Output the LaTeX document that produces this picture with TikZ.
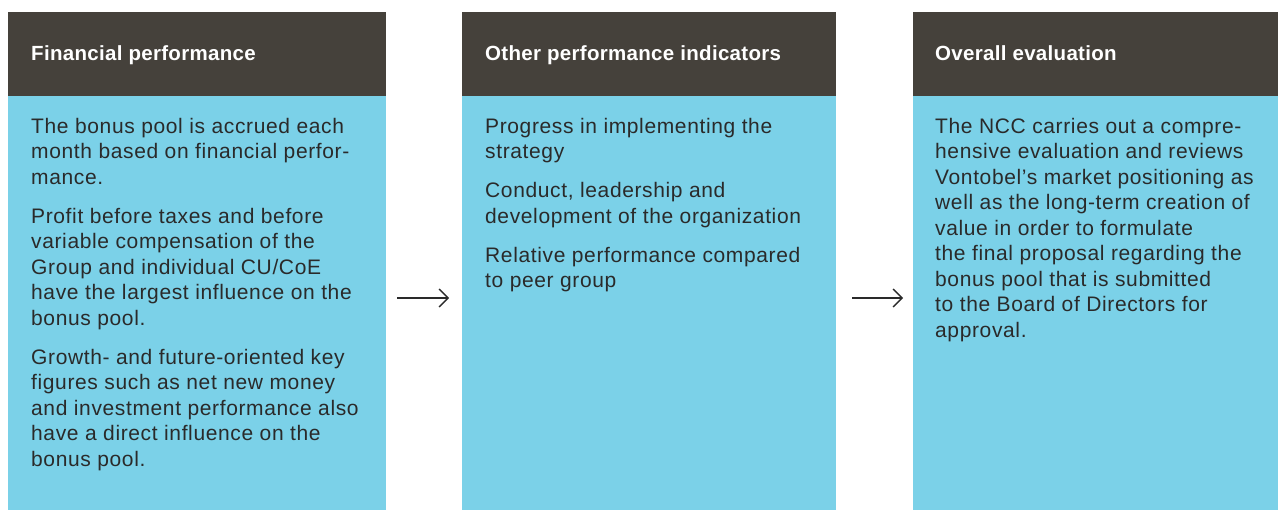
\documentclass[tikz,border=0pt]{standalone}
\usepackage{fontspec}
\setmainfont{Liberation Sans}[LetterSpace=3]
\newfontfamily\headfont{Liberation Sans}[LetterSpace=1.5]
\usetikzlibrary{arrows.meta}
\definecolor{headbg}{HTML}{45413B}
\definecolor{bodybg}{HTML}{7BD1E8}
\definecolor{txt}{HTML}{2A2A2A}
\tikzset{
  headbox/.style={fill=headbg, draw=none, inner sep=0pt, anchor=north west, minimum height=84pt},
  bodybox/.style={fill=bodybg, draw=none, inner sep=0pt, anchor=north west, minimum height=414pt},
  headtext/.style={text=white, inner sep=0pt, anchor=base west, font=\headfont\bfseries\fontsize{20.5}{24}\selectfont},
  bodytext/.style={text=txt, inner sep=0pt, anchor=north west, align=left, font=\fontsize{21}{25.5}\selectfont},
  arr/.style={draw=txt, line width=1.3pt, -{Straight Barb[length=9pt,width=18pt,line width=1.3pt]}}
}
\begin{document}
\begin{tikzpicture}[x=1pt,y=-1pt]
\useasboundingbox (0,0) rectangle (1278,510);
\fill[white] (0,0) rectangle (1278,510);
% column 1
\node[headbox, minimum width=378pt] (h1) at (8,12) {};
\node[bodybox, minimum width=378pt] (b1) at (8,96) {};
\node[headtext] (t1) at (31,61) {Financial performance};
\node[bodytext] (p1) at (31,115.15) {\strut The bonus pool is accrued each\\
month based on financial perfor-\\
mance.\\[13.5pt]
Profit before taxes and before\\
variable compensation of the\\
Group and individual CU/CoE\\
have the largest influence on the\\
bonus pool.\\[13.5pt]
Growth- and future-oriented key\\
figures such as net new money\\
and investment performance also\\
have a direct influence on the\\
bonus pool.};
% column 2
\node[headbox, minimum width=374pt] (h2) at (462,12) {};
\node[bodybox, minimum width=374pt] (b2) at (462,96) {};
\node[headtext] (t2) at (485,61) {Other performance indicators};
\node[bodytext] (p2) at (485,115.15) {\strut Progress in implementing the\\
strategy\\[13.5pt]
Conduct, leadership and\\
development of the organization\\[13.5pt]
Relative performance compared\\
to peer group};
% column 3
\node[headbox, minimum width=365pt] (h3) at (913,12) {};
\node[bodybox, minimum width=365pt] (b3) at (913,96) {};
\node[headtext] (t3) at (935,61) {Overall evaluation};
\node[bodytext] (p3) at (935,115.15) {\strut The NCC carries out a compre-\\
hensive evaluation and reviews\\
Vontobel’s market positioning as\\
well as the long-term creation of\\
value in order to formulate\\
the final proposal regarding the\\
bonus pool that is submitted\\
to the Board of Directors for\\
approval.};
% arrows
\coordinate (a1s) at (397,298);
\coordinate (a1e) at (449,298);
\coordinate (a2s) at (852,298);
\coordinate (a2e) at (903,298);
\draw[arr] (a1s) -- (a1e);
\draw[arr] (a2s) -- (a2e);
\end{tikzpicture}
\end{document}
